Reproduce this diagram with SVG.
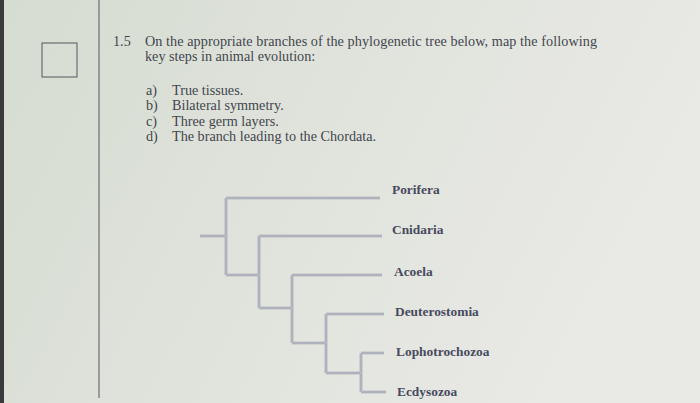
<svg xmlns="http://www.w3.org/2000/svg" width="700" height="403" viewBox="0 0 700 403">
<defs>
<linearGradient id="bg" x1="0" y1="0" x2="1" y2="0.3">
<stop offset="0" stop-color="#d5dcd1"/>
<stop offset="0.5" stop-color="#e0e3dc"/>
<stop offset="1" stop-color="#e9e9e5"/>
</linearGradient>
<style>
.q{font-family:"Liberation Serif","Times New Roman",serif;font-size:14.2px;fill:#43464e}
.lbl{font-family:"Liberation Serif","Times New Roman",serif;font-size:13.4px;font-weight:bold;fill:#474a5e}
.br{fill:none;stroke:#979cab;stroke-width:2.6;stroke-linejoin:miter}
.bri{fill:none;stroke:#d9dce0;stroke-width:0.7}
</style>
</defs>
<rect width="700" height="403" fill="url(#bg)"/>
<rect x="0" y="0" width="4" height="403" fill="#3a3a3a"/>
<line x1="99" y1="0" x2="99" y2="398" stroke="#55575c" stroke-width="1"/>
<rect x="42" y="43" width="35" height="34" fill="none" stroke="#55575c" stroke-width="1"/>

<g id="question">
<text class="q" x="113" y="46">1.5</text>
<text class="q" x="145" y="46" textLength="452">On the appropriate branches of the phylogenetic tree below, map the following</text>
<text class="q" x="145" y="61">key steps in animal evolution:</text>
<text class="q" x="146" y="95">a)</text><text class="q" x="172" y="95">True tissues.</text>
<text class="q" x="146" y="110">b)</text><text class="q" x="172" y="110">Bilateral symmetry.</text>
<text class="q" x="146" y="126">c)</text><text class="q" x="172" y="126">Three germ layers.</text>
<text class="q" x="146" y="141">d)</text><text class="q" x="172" y="141">The branch leading to the Chordata.</text>
</g>

<g id="connectors">
<path class="br" d="M200 236 H226 M226 198 V275 M226 198 H380 M226 275 H259 M259 236 V308 M259 236 H382 M259 308 H292 M292 275 V343 M292 275 H382 M292 343 H326 M326 314 V373 M326 314 H384 M326 373 H361 M361 353 V392 M361 353 H384 M361 392 H386"/>
<path class="bri" d="M200 236 H226 M226 198 V275 M226 198 H380 M226 275 H259 M259 236 V308 M259 236 H382 M259 308 H292 M292 275 V343 M292 275 H382 M292 343 H326 M326 314 V373 M326 314 H384 M326 373 H361 M361 353 V392 M361 353 H384 M361 392 H386"/>
</g>

<g id="porifera"><text class="lbl" x="392" y="194">Porifera</text></g>
<g id="cnidaria"><text class="lbl" x="392" y="234">Cnidaria</text></g>
<g id="acoela"><text class="lbl" x="394" y="276">Acoela</text></g>
<g id="deuterostomia"><text class="lbl" x="395" y="316">Deuterostomia</text></g>
<g id="lophotrochozoa"><text class="lbl" x="396" y="356">Lophotrochozoa</text></g>
<g id="ecdysozoa"><text class="lbl" x="397" y="396">Ecdysozoa</text></g>
</svg>
